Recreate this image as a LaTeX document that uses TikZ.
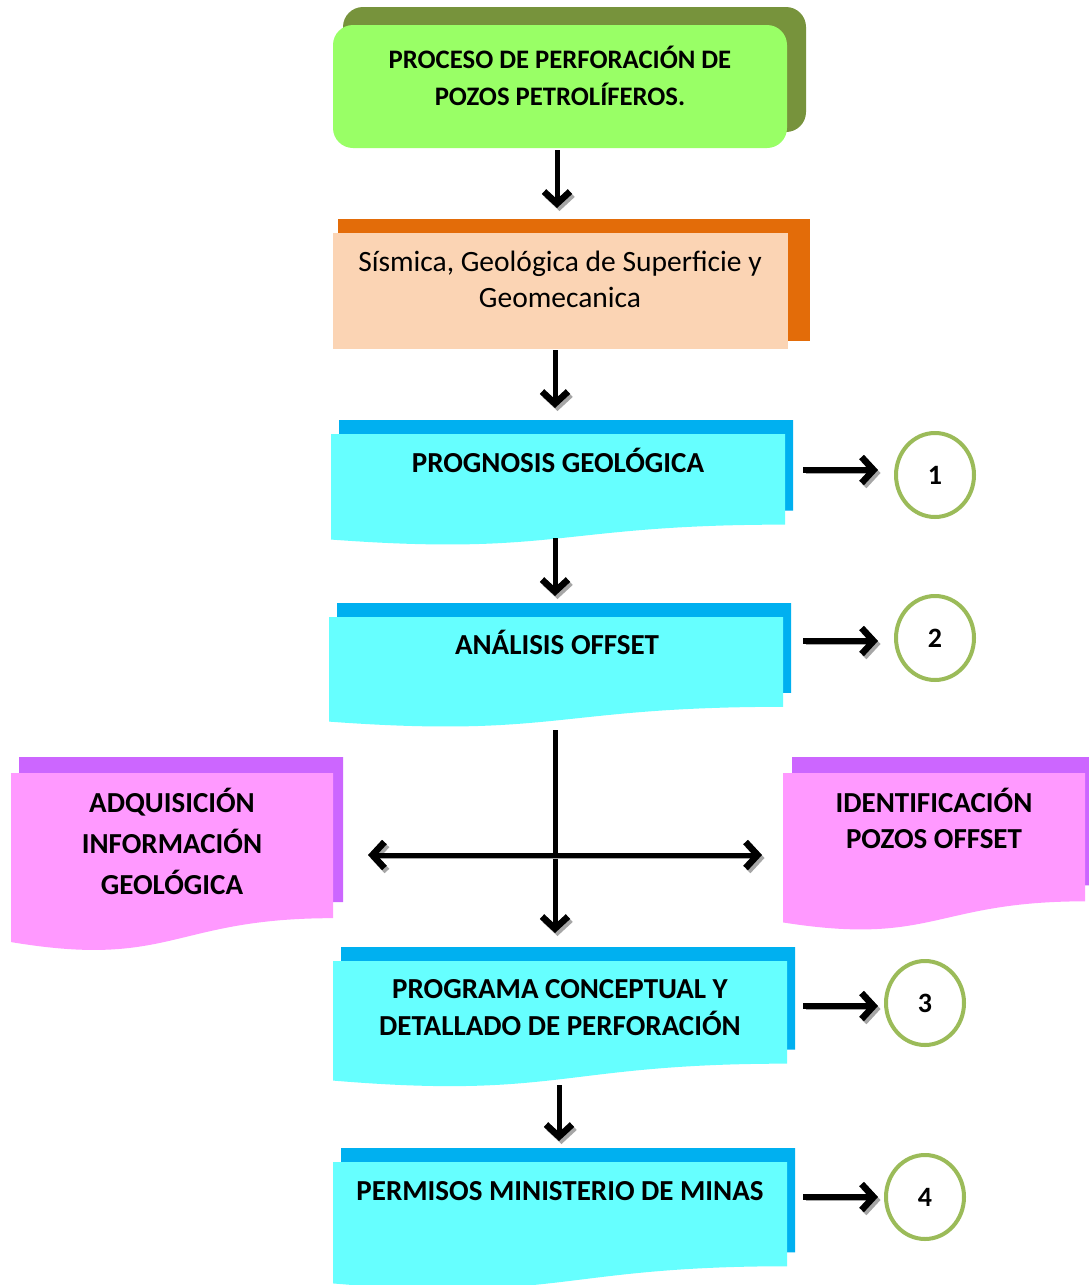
\documentclass[tikz,border=0pt]{standalone}
\usepackage{fontspec}
\setmainfont{Carlito}
\usetikzlibrary{arrows.meta,shapes.geometric}
\definecolor{gfront}{HTML}{99FF66}
\definecolor{gback}{HTML}{77933C}
\definecolor{ofront}{HTML}{FBD4B4}
\definecolor{oback}{HTML}{E36C09}
\definecolor{cfront}{HTML}{66FFFF}
\definecolor{cback}{HTML}{00B0F0}
\definecolor{pfront}{HTML}{FF99FF}
\definecolor{pback}{HTML}{CC66FF}
\definecolor{ring}{HTML}{9BBB59}
\newcommand\docshape[5]{%
 \pgfmathsetmacro\dsxa{#2}\pgfmathsetmacro\dsxb{#2+#4}\pgfmathsetmacro\dsxm{#2+0.5*#4}%
 \pgfmathsetmacro\dsya{#3}\pgfmathsetmacro\dsyr{#3+0.802*#5}\pgfmathsetmacro\dsyc{#3+1.083*#5}\pgfmathsetmacro\dsyl{#3+0.934*#5}%
 \fill[#1] (\dsxa,\dsya) -- (\dsxb,\dsya) -- (\dsxb,\dsyr) .. controls (\dsxm,\dsyr) and (\dsxm,\dsyc) .. (\dsxa,\dsyl) -- cycle;}
\begin{document}
\begin{tikzpicture}[x=1pt,y=-1pt,
  >={Straight Barb[length=12pt,width=26pt,line width=6.5pt]},
  txt/.style={font=\fontsize{29}{37}\selectfont\bfseries,align=center,anchor=base,inner sep=0},
  rtxt/.style={font=\fontsize{29.5}{36}\selectfont,align=center,anchor=base,inner sep=0},
  arr/.style={line width=5pt,->,
    preaction={draw=black!35,transform canvas={xshift=2.5pt,yshift=-3pt}}},
  harr/.style={arr,line width=6pt},
  darr/.style={line width=5pt,<->,
    preaction={draw=black!35,transform canvas={xshift=2.5pt,yshift=-3pt}}},
  circ/.style={ellipse,draw=ring,line width=4pt,fill=white,minimum width=78pt,minimum height=84pt,inner sep=0,
    font=\fontsize{28}{30}\selectfont\bfseries}]
\useasboundingbox[fill=white] (0,0) rectangle (1089,1285);

% top box
\fill[gback,rounded corners=20pt] (343,7) rectangle (806,132);
\fill[gfront,rounded corners=20pt] (333,25) rectangle (787,148);
\node[txt,font=\fontsize{26.7}{37}\selectfont\bfseries] (t1) at (560,105) {PROCESO DE PERFORACIÓN DE\\POZOS PETROLÍFEROS.};

% seismic box
\fill[oback] (338,219) rectangle (810,341);
\fill[ofront] (333,233) rectangle (788,349);
\node[rtxt] (t2) at (560,307) {Sísmica, Geológica de Superficie y\\Geomecanica};

% prognosis
\docshape{cback}{339}{420}{454}{113}
\docshape{cfront}{331}{434}{454}{113}
\node[txt] (t3) at (558,472) {PROGNOSIS GEOLÓGICA};

% analisis
\docshape{cback}{337}{603}{454}{112}
\docshape{cfront}{329}{617}{454}{112}
\node[txt] (t4) at (557,654) {ANÁLISIS OFFSET};

% adquisicion
\docshape{pback}{19}{757}{324}{181}
\docshape{pfront}{11}{773}{322}{181}
\node[txt,font=\fontsize{29}{41}\selectfont\bfseries] (t5) at (172,894) {ADQUISICIÓN\\INFORMACIÓN\\GEOLÓGICA};

% identificacion
\docshape{pback}{792}{757}{304}{160}
\docshape{pfront}{783}{773}{302}{160}
\node[txt,font=\fontsize{29}{36}\selectfont\bfseries] (t6) at (934,848) {IDENTIFICACIÓN\\POZOS OFFSET};

% programa
\docshape{cback}{341}{947}{454}{128}
\docshape{cfront}{333}{961}{454}{128}
\node[txt] (t7) at (560,1035) {PROGRAMA CONCEPTUAL Y\\DETALLADO DE PERFORACIÓN};

% permisos
\docshape{cback}{341}{1148}{454}{130}
\docshape{cfront}{333}{1162}{454}{130}
\node[txt] (t8) at (560,1200) {PERMISOS MINISTERIO DE MINAS};

% circles
\node[circ] (c1) at (935,475) {1};
\node[circ] (c2) at (935,638) {2};
\node[circ] (c3) at (925,1003) {3};
\node[circ] (c4) at (925,1197) {4};

% connector points
\coordinate (a1s) at (557,150); \coordinate (a1e) at (557,208);
\coordinate (a2s) at (555,350); \coordinate (a2e) at (555,408);
\coordinate (a3s) at (555,538); \coordinate (a3e) at (555,596);
\coordinate (a4s) at (555,730); \coordinate (a4e) at (555,933);
\coordinate (hl) at (368,855); \coordinate (hr) at (762,855);
\coordinate (a5s) at (559,1085); \coordinate (a5e) at (559,1141);
\coordinate (r1) at (803,470); \coordinate (r2) at (803,641);
\coordinate (r3) at (803,1006); \coordinate (r4) at (803,1197);

\draw[arr] (a1s) -- (a1e);
\draw[arr] (a2s) -- (a2e);
\draw[arr] (a3s) -- (a3e);
\draw[arr] (a4s) -- (a4e);
\draw[darr] (hl) -- (hr);
\draw[arr] (a5s) -- (a5e);
\draw[harr,shorten >=16pt] (r1) -- (r1 -| c1.west);
\draw[harr,shorten >=16pt] (r2) -- (r2 -| c2.west);
\draw[harr,shorten >=6pt] (r3) -- (r3 -| c3.west);
\draw[harr,shorten >=6pt] (r4) -- (r4 -| c4.west);
\end{tikzpicture}
\end{document}
